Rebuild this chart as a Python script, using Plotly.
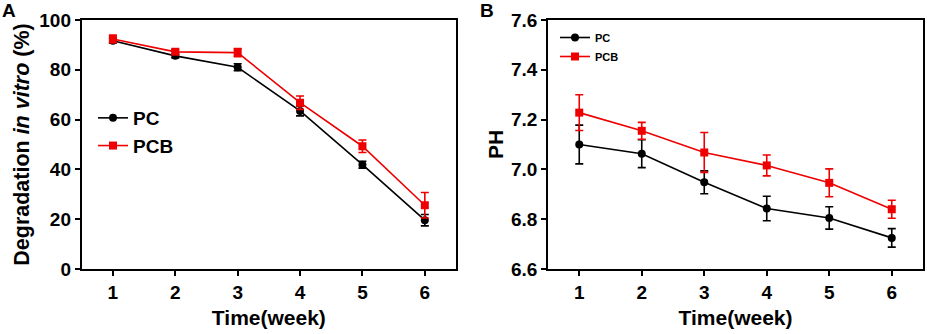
import plotly.graph_objects as go

weeks = [1, 2, 3, 4, 5, 6]

deg_pc = [91.7, 85.6, 81.0, 63.5, 41.9, 19.6]
deg_pc_err = [1.0, 0.8, 1.4, 2.0, 1.4, 2.3]
deg_pcb = [92.4, 87.2, 86.9, 66.8, 49.3, 25.6]
deg_pcb_err = [1.6, 0.9, 1.6, 2.7, 2.5, 5.1]

ph_pc = [7.10, 7.063, 6.948, 6.843, 6.805, 6.725]
ph_pc_err = [0.078, 0.056, 0.046, 0.049, 0.045, 0.037]
ph_pcb = [7.228, 7.155, 7.068, 7.016, 6.946, 6.840]
ph_pcb_err = [0.072, 0.034, 0.08, 0.042, 0.056, 0.036]

ticks_a = [0, 20, 40, 60, 80, 100]
ticks_b = [6.6, 6.8, 7.0, 7.2, 7.4, 7.6]

BLACK = "#000000"
RED = "#ee0000"
FONT = "Arial"

fig = go.Figure()

def add(x, y, err, name, color, symbol, xa, ya, legend):
    fig.add_trace(go.Scatter(
        x=x, y=y, name=name, mode="lines+markers",
        line=dict(color=color, width=1.6),
        marker=dict(color=color, size=8, symbol=symbol),
        error_y=dict(type="data", array=err, visible=True, color=color,
                     thickness=1.6, width=4),
        xaxis=xa, yaxis=ya, legend=legend,
    ))

add(weeks, deg_pc, deg_pc_err, "PC", BLACK, "circle", "x", "y", "legend")
add(weeks, deg_pcb, deg_pcb_err, "PCB", RED, "square", "x", "y", "legend")
add(weeks, ph_pc, ph_pc_err, "PC", BLACK, "circle", "x2", "y2", "legend2")
add(weeks, ph_pcb, ph_pcb_err, "PCB", RED, "square", "x2", "y2", "legend2")

# body margin is removed in the page, so the figure starts at (0, 0)
W, H = 927, 334

def px(x):
    return x / W

def py(y):
    return 1 - y / H

ydom = [py(269), py(20)]

axis_common = dict(
    showline=True, linecolor="black", linewidth=1.8, mirror=True,
    ticks="outside", ticklen=5, tickwidth=1.8, tickcolor="black",
    showgrid=False, zeroline=False, automargin=False,
    tickfont=dict(family=FONT, size=19, color="black", weight="bold"),
)
title_font = dict(family=FONT, size=21, color="black", weight="bold")

fig.update_layout(
    width=W, height=H,
    margin=dict(l=0, r=0, t=0, b=0),
    paper_bgcolor="white", plot_bgcolor="white",
    font=dict(family=FONT, color="black"),
    xaxis=dict(domain=[px(81.7), px(456)], range=[0.5, 6.5], tickvals=weeks,
               anchor="y",
               title=dict(text="Time(week)", standoff=9, font=title_font),
               **axis_common),
    yaxis=dict(domain=ydom, range=[0, 100], tickvals=ticks_a, anchor="x",
               title=dict(text="Degradation <i>in vitro</i> (%)", standoff=4,
                          font=dict(title_font, size=21.5)),
               **axis_common),
    xaxis2=dict(domain=[px(548), px(923)], range=[0.5, 6.5], tickvals=weeks,
                anchor="y2",
                title=dict(text="Time(week)", standoff=9, font=title_font),
                **axis_common),
    yaxis2=dict(domain=ydom, range=[6.6, 7.6], tickvals=ticks_b,
                tickformat=".1f", anchor="x2",
                title=dict(text="PH", standoff=2, font=title_font),
                **axis_common),
    legend=dict(x=px(93), y=py(99), xanchor="left", yanchor="top",
                bgcolor="rgba(0,0,0,0)",
                font=dict(family=FONT, size=19, color="black", weight="bold"),
                tracegroupgap=0),
    legend2=dict(x=px(555), y=py(23), xanchor="left", yanchor="top",
                 bgcolor="rgba(0,0,0,0)",
                 font=dict(family=FONT, size=11, color="black", weight="bold"),
                 tracegroupgap=0),
    annotations=[
        dict(text="<b>A</b>", x=px(0), y=py(-2), xref="paper", yref="paper",
             xanchor="left", yanchor="top", showarrow=False,
             font=dict(family=FONT, size=19, color="black")),
        dict(text="<b>B</b>", x=px(478), y=py(-2), xref="paper", yref="paper",
             xanchor="left", yanchor="top", showarrow=False,
             font=dict(family=FONT, size=19, color="black")),
    ],
)

fig.write_html("out.html",
               config={"displayModeBar": False},
               post_script="document.body.style.margin='0px';"
                           "document.body.style.overflow='hidden';")
